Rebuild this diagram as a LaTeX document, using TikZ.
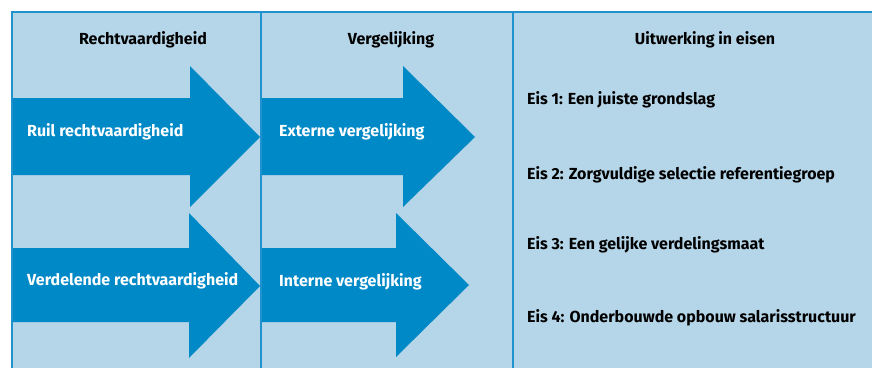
\documentclass[tikz,border=0pt]{standalone}
\usepackage{fontspec}
\setmainfont{Fira Sans}
\usepackage{tikz}
\usetikzlibrary{positioning}
\definecolor{panelblue}{RGB}{181,213,232}
\definecolor{arrowblue}{RGB}{0,137,199}
\definecolor{lineblue}{RGB}{32,146,206}

\begin{document}
\begin{tikzpicture}[x=1pt, y=-1pt,
    header/.style={font=\fontsize{16}{18}\selectfont\bfseries, text=black, inner sep=0pt},
    label/.style={font=\fontsize{16}{18}\selectfont\bfseries, text=white, anchor=west, inner sep=0pt},
    eis/.style={font=\fontsize{16}{18}\selectfont\bfseries, text=black, anchor=west, inner sep=0pt},
    bigarrow/.style={fill=arrowblue, draw=none}
]
    \useasboundingbox (0,0) rectangle (872,367);
    \clip (0,0) rectangle (872,367);

    % panel
    \fill[panelblue] (12,12) rectangle (890,390);

    % arrows
    \fill[bigarrow] (12,98) -- (190,98) -- (190,66) -- (260,137) -- (190,207) -- (190,175) -- (12,175) -- cycle;
    \fill[bigarrow] (12,248) -- (189,248) -- (189,213) -- (260,286) -- (189,358) -- (189,322) -- (12,322) -- cycle;
    \fill[bigarrow] (262,98) -- (403,98) -- (403,66) -- (475,137) -- (403,207) -- (403,175) -- (262,175) -- cycle;
    \fill[bigarrow] (262,248) -- (396,248) -- (396,213) -- (469,285) -- (396,357) -- (396,322) -- (262,322) -- cycle;

    % borders
    \draw[lineblue, line width=2pt] (12,390) -- (12,12) -- (890,12);
    \draw[lineblue, line width=2pt] (261,12) -- (261,390);
    \draw[lineblue, line width=2pt] (513,12) -- (513,390);

    % headers
    \node[header] (h1) at (143,40) {Rechtvaardigheid};
    \node[header] (h2) at (391,40) {Vergelijking};
    \node[header] (h3) at (705,40) {Uitwerking in eisen};

    % arrow labels
    \node[label] (ruil) at (27,132) {Ruil rechtvaardigheid};
    \node[label] (verdeel) at (27,281) {Verdelende rechtvaardigheid};
    \node[label] (extern) at (279,132) {Externe vergelijking};
    \node[label] (intern) at (279,282) {Interne vergelijking};

    % eisen
    \node[eis] (eis1) at (527,100) {Eis 1: Een juiste grondslag};
    \node[eis] (eis2) at (527,175) {Eis 2: Zorgvuldige selectie referentiegroep};
    \node[eis] (eis3) at (527,245) {Eis 3: Een gelijke verdelingsmaat};
    \node[eis] (eis4) at (527,318) {Eis 4: Onderbouwde opbouw salarisstructuur};
\end{tikzpicture}
\end{document}
